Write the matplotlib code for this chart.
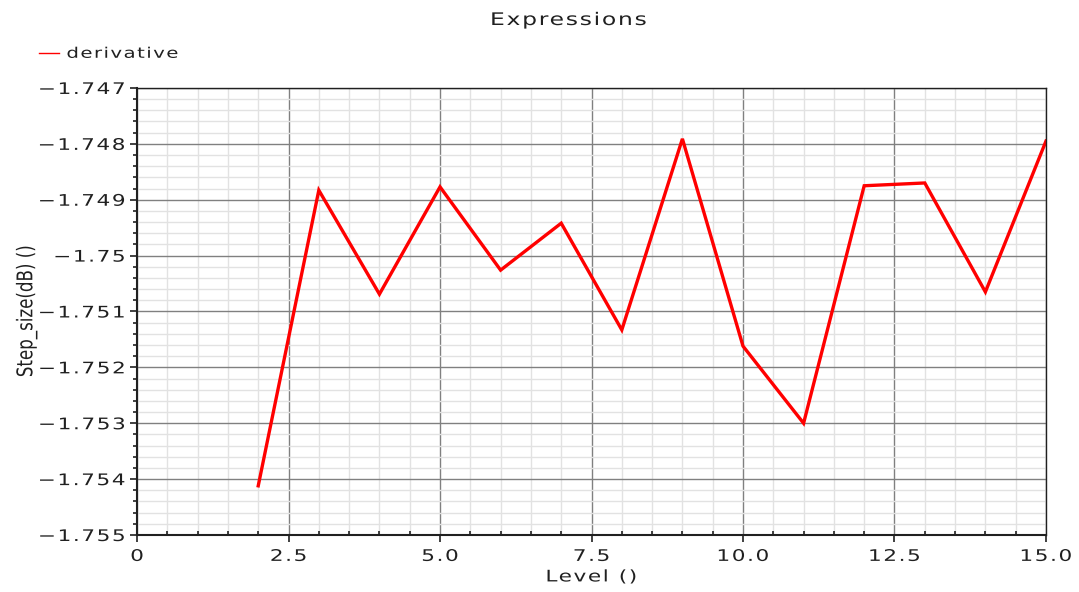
import matplotlib
matplotlib.use("Agg")
import numpy as np
import matplotlib.pyplot as plt
from matplotlib.ticker import MultipleLocator
from matplotlib.lines import Line2D
from matplotlib.path import Path
from matplotlib.patheffects import AbstractPathEffect

level = [2, 3, 4, 5, 6, 7, 8, 9, 10, 11, 12, 13, 14, 15]
step_size = [-1.75412, -1.74883, -1.75069, -1.74877, -1.75026, -1.74942, -1.75133,
             -1.74791, -1.75162, -1.75300, -1.74875, -1.74870, -1.75065, -1.74795]
x_ticks = [0, 2.5, 5.0, 7.5, 10.0, 12.5, 15.0]
x_labels = ["0", "2.5", "5.0", "7.5", "10.0", "12.5", "15.0"]
y_ticks = [-1.755, -1.754, -1.753, -1.752, -1.751, -1.75, -1.749, -1.748, -1.747]
y_labels = ["\u22121.755", "\u22121.754", "\u22121.753", "\u22121.752", "\u22121.751",
            "\u22121.75", "\u22121.749", "\u22121.748", "\u22121.747"]


class WideText(AbstractPathEffect):
    """Draw text glyphs stretched (sx along the text, sy across it) with extra letter spacing."""

    def __init__(self, sx=1.35, sy=1.0, spacing=10.0, anchor='center'):
        super().__init__()
        self.sx = sx
        self.sy = sy
        self.spacing = spacing  # in text-path units (100 = 1 em)
        self.anchor = anchor

    def draw_path(self, renderer, gc, tpath, affine, rgbFace=None):
        verts = np.array(tpath.vertices, dtype=float)
        codes = tpath.codes
        if codes is None or len(verts) == 0:
            renderer.draw_path(gc, tpath, affine, rgbFace)
            return
        starts = list(np.nonzero(codes == Path.MOVETO)[0]) + [len(codes)]
        subs = []
        for a, b in zip(starts[:-1], starts[1:]):
            m = codes[a:b] != Path.CLOSEPOLY
            xs = verts[a:b][m, 0]
            subs.append((a, b, xs.min(), xs.max()))
        groups = []
        for a, b, x0, x1 in subs:
            if groups:
                g = groups[-1]
                ov = min(g[1], x1) - max(g[0], x0)
                if ov > 0.3 * max(1e-6, min(g[1] - g[0], x1 - x0)):
                    g[0] = min(g[0], x0)
                    g[1] = max(g[1], x1)
                    g[2].append((a, b))
                    continue
            groups.append([x0, x1, [(a, b)]])
        X0 = min(g[0] for g in groups)
        X1 = max(g[1] for g in groups)
        new = verts.copy()
        steps = 0
        for k, g in enumerate(groups):
            if k > 0:
                steps += 1
                if g[0] - groups[k - 1][1] > 28:  # a space between words
                    steps += 1
            for a, b in g[2]:
                new[a:b, 0] = self.sx * verts[a:b, 0] + steps * self.spacing
        extra = steps * self.spacing
        if self.anchor == 'left':
            shift = X0 - self.sx * X0
        elif self.anchor == 'right':
            shift = X1 - (self.sx * X1 + extra)
        else:
            c = 0.5 * (X0 + X1)
            shift = c - (self.sx * c + extra / 2.0)
        new[:, 0] += shift
        if self.sy != 1.0:
            m = codes != Path.CLOSEPOLY
            ys = verts[m, 1]
            cy = 0.5 * (ys.min() + ys.max())
            new[:, 1] = cy + self.sy * (verts[:, 1] - cy)
        renderer.draw_path(gc, Path(new, codes), affine, rgbFace)


TXT = '#202020'
plt.rcParams['font.family'] = ['DejaVu Sans']
fig = plt.figure(figsize=(10.79, 5.92), dpi=100)
ax = fig.add_axes([0.127, 0.0963, 0.8424, 0.7551])

ax.plot(level, step_size, color='#ff0000', lw=2.4, solid_joinstyle='miter')

ax.set_xlim(0, 15)
ax.set_ylim(-1.755, -1.747)
ax.set_xticks(x_ticks)
ax.set_xticklabels(x_labels)
ax.set_yticks(y_ticks)
ax.set_yticklabels(y_labels)
ax.xaxis.set_minor_locator(MultipleLocator(0.5))
ax.yaxis.set_minor_locator(MultipleLocator(0.0002))

ax.grid(which='major', color='#808080', lw=1.0)
ax.grid(which='minor', color='#e2e2e2', lw=1.0)
ax.set_axisbelow(True)

for s in ax.spines.values():
    s.set_color(TXT)
    s.set_linewidth(1.0)
ax.spines['left'].set_linewidth(1.5)
ax.spines['bottom'].set_linewidth(1.5)

ax.tick_params(axis='both', which='major', labelsize=11.5, colors=TXT, length=5, width=1.2)
ax.tick_params(axis='x', which='minor', direction='in', length=3, width=1.2, color=TXT)
ax.tick_params(axis='y', which='minor', direction='out', length=3, width=1.2, color=TXT)
ax.tick_params(axis='x', which='major', pad=5)
ax.tick_params(axis='y', which='major', pad=3.5)

for t in ax.get_xticklabels():
    t.set_path_effects([WideText(anchor='center')])
for t in ax.get_yticklabels():
    t.set_path_effects([WideText(anchor='right')])

xl = ax.set_xlabel("Level ()", fontsize=11.5, color=TXT, labelpad=4)
xl.set_path_effects([WideText(anchor='center')])
yl = ax.set_ylabel("Step_size(dB) ()", fontsize=12, color=TXT)
yl.set_va('center')
ax.yaxis.set_label_coords(-0.122, 0.5)
yl.set_path_effects([WideText(sx=1.0, sy=1.3, spacing=0.0, anchor='center')])

ttl = fig.text(0.5273, 1 - 25 / 592, "Expressions", ha='center', va='baseline',
               fontsize=12.5, color=TXT)
ttl.set_path_effects([WideText(anchor='center')])

handle = Line2D([], [], color='#ff0000', lw=1.0)
leg = fig.legend([handle], ["derivative"], loc='center left', bbox_to_anchor=(0.0294, 0.910),
                 frameon=False, fontsize=10.5, handlelength=1.4, handletextpad=0.5,
                 borderpad=0.0, labelcolor=TXT)
for t in leg.get_texts():
    t.set_path_effects([WideText(anchor='left')])

fig.savefig("out.png", dpi=100)
